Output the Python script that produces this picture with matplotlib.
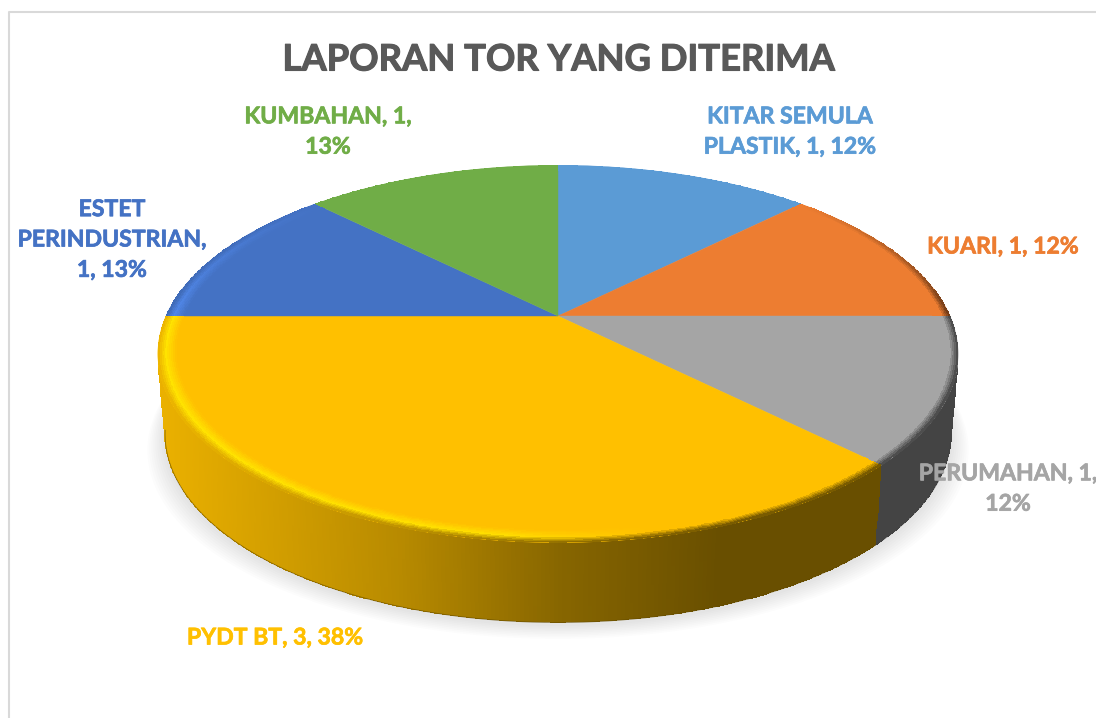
import numpy as np
import matplotlib
matplotlib.use("Agg")
import matplotlib.pyplot as plt
import matplotlib.patheffects as pe
from matplotlib.colors import to_rgb

plt.rcParams['font.family'] = ['Lato', 'DejaVu Sans']

title = "LAPORAN TOR YANG DITERIMA"

# clockwise from 12 o'clock
categories = ["KITAR SEMULA PLASTIK", "KUARI", "PERUMAHAN", "PYDT BT", "ESTET PERINDUSTRIAN", "KUMBAHAN"]
values = [1, 1, 1, 3, 1, 1]
percents = [12, 12, 12, 38, 13, 13]
colors = ["#5B9BD5", "#ED7D31", "#A5A5A5", "#FFC000", "#4472C4", "#70AD47"]
label_text = [
    "KITAR SEMULA\nPLASTIK, {v}, {p}%",
    "KUARI, {v}, {p}%",
    "PERUMAHAN, {v},\n{p}%",
    "PYDT BT, {v}, {p}%",
    "ESTET\nPERINDUSTRIAN,\n{v}, {p}%",
    "KUMBAHAN, {v},\n{p}%",
]
label_x = [790, 1003, 1008, 275, 112, 328]
label_y = [132, 247, 489, 638, 240, 132]

# pie geometry in pixels
CX, CY = 558, 316
RX, RY, K = 392, 181, 0.201
DEPTH = 80
BOTTOM_SCALE = 0.982


def top_xy(r, th):
    # perspective view of the unit circle, th clockwise from 12 o'clock
    ux, uy = r * np.sin(th), r * np.cos(th)
    w = 1 + K * uy
    return CX + RX * ux / w, CY - RY * uy / w


def bottom_xy(r, th):
    x, y = top_xy(r, th)
    return CX + (x - CX) * BOTTOM_SCALE, y + DEPTH


def side_shade(x):
    return np.interp(x, [160, 400, 560, 720, 960], [0.92, 0.72, 0.53, 0.41, 0.41])


fig = plt.figure(figsize=(10.96, 7.18), dpi=100)
ax = fig.add_axes([0, 0, 1, 1])
ax.set_xlim(0, 1096)
ax.set_ylim(718, 0)
ax.axis("off")

# chart border
ax.plot([9, 9, 1096], [718, 12, 12], color="#D9D9D9", lw=1.5, zorder=1)

# soft shadow under the pie
full = np.linspace(0, 2 * np.pi, 400)
sx, sy = bottom_xy(1.0, full)
for grow in range(18, 0, -2):
    ax.fill(CX + (sx - CX) * (1 + grow / 400), sy + 2 + grow * 0.8, color="black", alpha=0.011, lw=0, zorder=2)

edges = np.cumsum([0] + values) / sum(values) * 2 * np.pi

# sides, only the part in front of the silhouette
for i, col in enumerate(colors):
    base = np.array(to_rgb(col))
    th = np.linspace(edges[i], edges[i + 1], int(values[i] * 90) + 1)
    th = th[np.cos(th) <= -0.18]
    if th.size < 2:
        continue
    xt, yt = top_xy(1.0, th)
    xb, yb = bottom_xy(1.0, th)
    z = np.linspace(0, 1, 6)[:, None]
    X = xt + (xb - xt) * z
    Y = yt + (yb - yt) * z
    xm = 0.5 * (X[:-1, :-1] + X[1:, 1:])
    C = base * side_shade(xm)[..., None]
    ax.pcolormesh(X, Y, C, shading="flat", antialiased=False, zorder=3)
    ax.plot(xb, yb, color=base * 0.4, lw=0.6, alpha=0.7, zorder=3.1)

# top face and rim
RIM = 0.955
for i, col in enumerate(colors):
    base = np.array(to_rgb(col))
    th = np.linspace(edges[i], edges[i + 1], int(values[i] * 90) + 1)
    x, y = top_xy(1.0, th)
    ax.fill(np.r_[CX, x], np.r_[CY, y], color=col, lw=0.3, zorder=4)

    rr = np.linspace(RIM, 1.0, 11)[:, None]
    X, Y = top_xy(rr, th)
    thm = 0.5 * (th[:-1] + th[1:])
    tm = (0.5 * (rr[:-1] + rr[1:]) - RIM) / (1 - RIM)
    xm, _ = top_xy(1.0, thm)
    back = np.clip(np.cos(thm) / 0.7, 0, 1)      # rim fades out on the far side
    hl = np.interp(xm, [160, 500, 650, 960], [1, 0.85, 0, 0]) * (1 - back)
    bright = np.clip(base * 1.18, 0, 1)
    peak = base + (bright - base) * hl[None, :, None]
    dark = base * side_shade(xm)[None, :, None]
    end = dark + (base - dark) * back[None, :, None]
    t1 = np.clip(tm / 0.55, 0, 1)[..., None]
    t2 = np.clip((tm - 0.55) / 0.45, 0, 1)[..., None]
    C = base + (peak - base) * t1
    C = C + (end - C) * t2
    ax.pcolormesh(X, Y, np.clip(C, 0, 1), shading="flat", antialiased=False, zorder=5)

ax.text(558, 60, title, color="#595959", fontsize=26.2, fontweight="bold", ha="center", va="center", zorder=6,
        path_effects=[pe.withStroke(linewidth=0.8, foreground="#595959")])

for i, txt in enumerate(label_text):
    ax.text(label_x[i], label_y[i], txt.format(v=values[i], p=percents[i]), color=colors[i],
            fontsize=16.6, fontweight="bold", ha="center", va="center", linespacing=1.55, zorder=6,
            path_effects=[pe.withStroke(linewidth=0.5, foreground=colors[i])])

fig.savefig("out.png", dpi=100)
